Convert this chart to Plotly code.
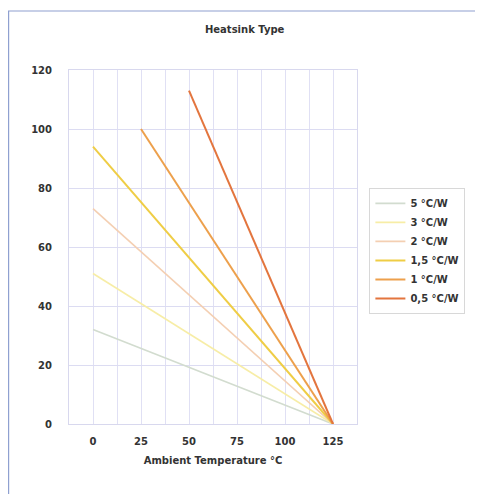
import plotly.graph_objects as go

series_names = ["5 °C/W", "3 °C/W", "2 °C/W", "1,5 °C/W", "1 °C/W", "0,5 °C/W"]
series_x = [
    [0, 125],
    [0, 125],
    [0, 125],
    [0, 125],
    [25, 125],
    [50, 125],
]
series_y = [
    [32, 0],
    [51, 0],
    [73, 0],
    [94, 0],
    [100, 0],
    [113, 0],
]
colors = ["#d2dccf", "#f7eda6", "#f4cfb2", "#efcd45", "#eda04c", "#e3753e"]
widths = [1.6, 1.6, 1.6, 2.0, 2.0, 2.0]
x_tick_vals = [0, 25, 50, 75, 100, 125]
y_tick_vals = [0, 20, 40, 60, 80, 100, 120]

fig = go.Figure()
for name, xs, ys, c, w in zip(series_names, series_x, series_y, colors, widths):
    fig.add_trace(go.Scatter(x=xs, y=ys, mode="lines", name="<b>%s</b>" % name,
                             line=dict(color=c, width=w)))

font_family = "Verdana, DejaVu Sans, sans-serif"
fig.update_layout(
    width=483, height=494,
    margin=dict(l=61, r=134, t=62, b=78),
    paper_bgcolor="white", plot_bgcolor="white",
    title=dict(text="<b>Heatsink Type</b>", x=0.49, xanchor="center", y=0.957, yanchor="middle",
               font=dict(family=font_family, size=10, color="#333333")),
    font=dict(family=font_family, size=10, color="#333333"),
    legend=dict(x=1.043, y=0.667, xanchor="left", yanchor="top",
                bordercolor="#d8d8d8", borderwidth=1, bgcolor="white",
                font=dict(size=10, color="#333333"), itemwidth=30,
                tracegroupgap=0),
    showlegend=True,
    xaxis=dict(range=[-12.5, 137.5], tickvals=x_tick_vals,
               ticktext=["<b>%d</b>" % v for v in x_tick_vals],
               showgrid=False, zeroline=False,
               minor=dict(tick0=-12.5, dtick=12.5, showgrid=True, gridcolor="#e0e0f4", gridwidth=1),
               showline=True, linecolor="#d8d8ee", mirror=True,
               ticks="", ticklabelstandoff=8,
               title=dict(text="<b>Ambient Temperature °C</b>", standoff=10,
                          font=dict(size=10, color="#333333"))),
    yaxis=dict(range=[0, 120], tickvals=y_tick_vals,
               ticktext=["<b>%d</b>" % v for v in y_tick_vals],
               showgrid=True, gridcolor="#dcdcf2", gridwidth=1, zeroline=False,
               showline=True, linecolor="#d8d8ee", mirror=True,
               ticks="", ticklabelstandoff=14),
    shapes=[dict(type="rect", xref="paper", yref="paper",
                 x0=-0.2097, x1=1.6, y0=-0.5, y1=1.1667,
                 line=dict(color="#8fa0d0", width=1.2), layer="below")],
)

fig.write_html("out.html")
